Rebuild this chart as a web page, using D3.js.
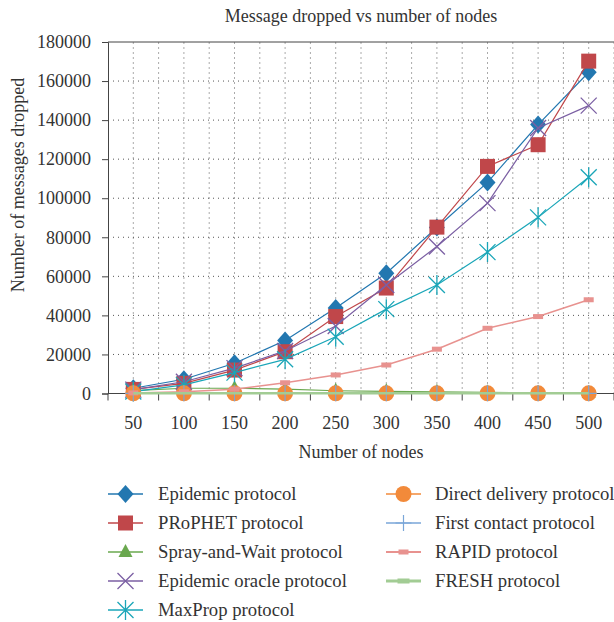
<!DOCTYPE html>
<html>
<head>
<meta charset="utf-8">
<script src="https://cdn.jsdelivr.net/npm/d3@7"></script>
<style>
  body { margin: 0; background: #fff; }
  text { font-family: "Liberation Serif", "DejaVu Serif", serif; fill: #333; }
</style>
</head>
<body>
<div id="chart"></div>
<script>
// categories and series values
const nodes = [50, 100, 150, 200, 250, 300, 350, 400, 450, 500];
const yTicks = [0, 20000, 40000, 60000, 80000, 100000, 120000, 140000, 160000, 180000];

const epidemic = [2700, 7300, 15500, 27100, 43800, 61600, 85000, 108100, 137700, 164500];
const prophet = [2100, 5200, 12000, 21400, 39400, 54000, 85200, 116300, 127400, 170200];
const sprayWait = [1500, 2700, 2700, 2200, 1400, 1100, 900, 600, 400, 200];
const epidemicOracle = [2000, 6000, 13000, 21800, 34600, 55600, 75300, 97500, 136000, 147400];
const maxProp = [1000, 4400, 10700, 17500, 29100, 43200, 55600, 72400, 90200, 110700];
const directDelivery = [100, 100, 100, 100, 100, 100, 100, 100, 100, 100];
const firstContact = [100, 100, 100, 100, 100, 100, 100, 100, 100, 100];
const rapid = [300, 900, 2200, 5500, 9500, 14600, 22700, 33400, 39400, 48000];
const fresh = [100, 100, 100, 100, 100, 100, 100, 100, 100, 100];

const seriesNames = ["Epidemic protocol", "PRoPHET protocol", "Spray-and-Wait protocol",
  "Epidemic oracle protocol", "MaxProp protocol", "Direct delivery protocol",
  "First contact protocol", "RAPID protocol", "FRESH protocol"];

const series = [
  { name: seriesNames[0], values: epidemic, color: "#2277b0", marker: "diamond", width: 1.2 },
  { name: seriesNames[1], values: prophet, color: "#c0474a", marker: "square", width: 1.2 },
  { name: seriesNames[2], values: sprayWait, color: "#6aa84f", marker: "triangle", width: 1.2 },
  { name: seriesNames[3], values: epidemicOracle, color: "#7b5fa3", marker: "x", width: 1.2 },
  { name: seriesNames[4], values: maxProp, color: "#1aa6b8", marker: "asterisk", width: 1.2 },
  { name: seriesNames[5], values: directDelivery, color: "#f28a3a", marker: "circle", width: 1.2 },
  { name: seriesNames[6], values: firstContact, color: "#7aa6d8", marker: "plus", width: 1.2 },
  { name: seriesNames[7], values: rapid, color: "#e8928f", marker: "rect", width: 1.5 },
  { name: seriesNames[8], values: fresh, color: "#a2cc94", marker: "bar", width: 2.5 }
];

const W = 614, H = 622;
const svg = d3.select("#chart").append("svg")
  .attr("width", W).attr("height", H);

const x = d3.scaleBand().domain(nodes).range([108, 614]).paddingInner(0).paddingOuter(0);
const bw = x.bandwidth();
const cx = d => x(d) + bw / 2;
const y = d3.scaleLinear().domain([0, 180000]).range([393.5, 42]);

// grid
const grid = svg.append("g");
for (let i = 1; i <= nodes.length * 2; i++) {
  grid.append("line")
    .attr("x1", 108 + i * bw / 2).attr("x2", 108 + i * bw / 2)
    .attr("y1", y(0)).attr("y2", y(180000))
    .attr("stroke", "#555").attr("stroke-width", 1)
    .attr("stroke-dasharray", "1,4");
}
yTicks.slice(1, -1).forEach(t => {
  grid.append("line")
    .attr("x1", 108).attr("x2", W)
    .attr("y1", y(t)).attr("y2", y(t))
    .attr("stroke", "#555").attr("stroke-width", 1)
    .attr("stroke-dasharray", "1,4");
});

// frame top
svg.append("line").attr("x1", 108).attr("x2", W).attr("y1", y(180000)).attr("y2", y(180000))
  .attr("stroke", "#444").attr("stroke-width", 1);

// axes
const yAxis = svg.append("g").attr("transform", "translate(108,0)")
  .call(d3.axisLeft(y).tickValues(yTicks).tickSize(6).tickPadding(11).tickFormat(d3.format("d")));
yAxis.select(".domain").attr("stroke", "#444");
yAxis.selectAll(".tick line").attr("stroke", "#444");
yAxis.selectAll("text").style("font-size", "18px").attr("fill", "#333")
  .style("font-family", "Liberation Serif");

const xAxis = svg.append("g").attr("transform", "translate(0," + y(0) + ")");
xAxis.append("line").attr("x1", 108).attr("x2", W).attr("y1", 0).attr("y2", 0)
  .attr("stroke", "#444");
for (let i = 0; i <= nodes.length; i++) {
  xAxis.append("line").attr("x1", 108 + i * bw).attr("x2", 108 + i * bw)
    .attr("y1", 0).attr("y2", 7).attr("stroke", "#444");
}
xAxis.selectAll("text.xl").data(nodes).join("text").attr("class", "xl")
  .attr("x", d => cx(d)).attr("y", 35)
  .attr("text-anchor", "middle").style("font-size", "18px").text(d => d);

// titles
svg.append("text").attr("x", 361).attr("y", 22).attr("text-anchor", "middle")
  .style("font-size", "18px").text("Message dropped vs number of nodes");
svg.append("text").attr("x", 361).attr("y", 458).attr("text-anchor", "middle")
  .style("font-size", "18px").text("Number of nodes");
svg.append("text").attr("transform", "translate(24,185) rotate(-90)")
  .attr("text-anchor", "middle").style("font-size", "18px").text("Number of messages dropped");

// markers
function drawMarker(g, type, color, px, py) {
  const p = d3.path();
  switch (type) {
    case "diamond":
      g.append("path").attr("d", `M${px},${py - 9}L${px + 8},${py}L${px},${py + 9}L${px - 8},${py}Z`)
        .attr("fill", color);
      break;
    case "square":
      g.append("rect").attr("x", px - 7.5).attr("y", py - 7.5).attr("width", 15).attr("height", 15)
        .attr("fill", color);
      break;
    case "triangle":
      g.append("path").attr("d", `M${px},${py - 8}L${px + 7},${py + 5}L${px - 7},${py + 5}Z`)
        .attr("fill", color);
      break;
    case "x":
      p.moveTo(px - 8, py - 8); p.lineTo(px + 8, py + 8);
      p.moveTo(px - 8, py + 8); p.lineTo(px + 8, py - 8);
      g.append("path").attr("d", p.toString()).attr("stroke", color).attr("stroke-width", 1.3).attr("fill", "none");
      break;
    case "asterisk":
      p.moveTo(px - 8, py - 8); p.lineTo(px + 8, py + 8);
      p.moveTo(px - 8, py + 8); p.lineTo(px + 8, py - 8);
      p.moveTo(px, py - 10); p.lineTo(px, py + 10);
      g.append("path").attr("d", p.toString()).attr("stroke", color).attr("stroke-width", 1.3).attr("fill", "none");
      break;
    case "circle":
      g.append("circle").attr("cx", px).attr("cy", py).attr("r", 8).attr("fill", color);
      break;
    case "plus":
      p.moveTo(px, py - 8); p.lineTo(px, py + 8);
      p.moveTo(px - 8, py); p.lineTo(px + 8, py);
      g.append("path").attr("d", p.toString()).attr("stroke", color).attr("stroke-width", 1.2).attr("fill", "none");
      break;
    case "rect":
      g.append("rect").attr("x", px - 5).attr("y", py - 2.5).attr("width", 10).attr("height", 5)
        .attr("fill", color);
      break;
    case "bar":
      g.append("rect").attr("x", px - 6).attr("y", py - 2.5).attr("width", 12).attr("height", 5)
        .attr("fill", color);
      break;
  }
}

const line = d3.line().x((d, i) => cx(nodes[i])).y(d => y(d));
series.forEach(s => {
  const g = svg.append("g");
  g.append("path").attr("d", line(s.values)).attr("fill", "none")
    .attr("stroke", s.color).attr("stroke-width", s.width);
  if (s.marker !== "bar") {
    s.values.forEach((v, i) => drawMarker(g, s.marker, s.color, cx(nodes[i]), y(v)));
  }
});

// legend
const legendRows = [494, 523, 552, 581, 610];
series.forEach((s, i) => {
  const col = i < 5 ? 0 : 1;
  const row = i < 5 ? i : i - 5;
  const lx = col === 0 ? 108 : 386;
  const ly = legendRows[row];
  const g = svg.append("g");
  g.append("line").attr("x1", lx).attr("x2", lx + 35).attr("y1", ly).attr("y2", ly)
    .attr("stroke", s.color).attr("stroke-width", s.width + 0.3);
  drawMarker(g, s.marker, s.color, lx + 17.5, ly);
  g.append("text").attr("x", lx + (col === 0 ? 50 : 49)).attr("y", ly + 6)
    .style("font-size", "18.7px").text(s.name);
});
</script>
</body>
</html>
